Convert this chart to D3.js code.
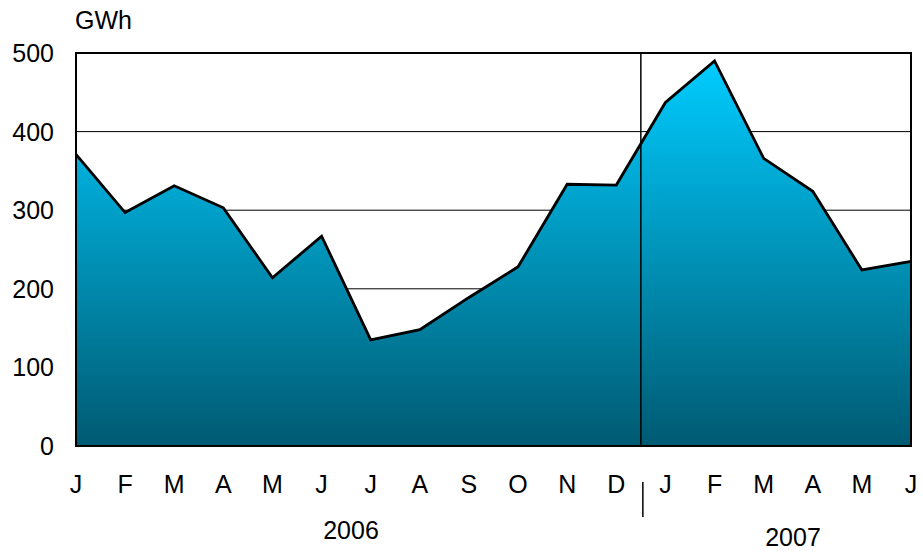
<!DOCTYPE html>
<html>
<head>
<meta charset="utf-8">
<title>GWh 2006-2007</title>
<script src="https://d3js.org/d3.v7.min.js"></script>
<style>
  body { margin: 0; background: #fff; }
  text { font-family: "Liberation Sans", Arial, sans-serif; fill: #000; }
</style>
</head>
<body>
<svg id="chart" width="923" height="553"></svg>
<script>
// data
var months = ["J","F","M","A","M","J","J","A","S","O","N","D","J","F","M","A","M","J"];
var values = [371, 297, 331, 303, 214, 267, 135, 148, 189, 228, 333, 332, 437, 490, 366, 324, 224, 235];
var yTicks = [0, 100, 200, 300, 400, 500];
var years = ["2006", "2007"];

var svg = d3.select("#chart");
var mLeft = 76, mRight = 911, mTop = 53, mBottom = 446;
var fs = 25;

var x = d3.scaleLinear().domain([0, months.length - 1]).range([mLeft, mRight]);
var y = d3.scaleLinear().domain([0, 500]).range([mBottom, mTop]);

// gradient fill
var grad = svg.append("defs").append("linearGradient")
  .attr("id", "fill").attr("x1", 0).attr("y1", 0).attr("x2", 0).attr("y2", 1);
grad.append("stop").attr("offset", "0%").attr("stop-color", "#00ccff");
grad.append("stop").attr("offset", "100%").attr("stop-color", "#005a72");

// gridlines
svg.append("g").selectAll("line").data(yTicks.slice(1, -1)).enter().append("line")
  .attr("x1", mLeft).attr("x2", mRight)
  .attr("y1", d => y(d)).attr("y2", d => y(d))
  .attr("stroke", "#000").attr("stroke-width", 1);

// area
var area = d3.area().x((d, i) => x(i)).y0(y(0)).y1(d => y(d));
svg.append("path").datum(values).attr("d", area).attr("fill", "url(#fill)");
var line = d3.line().x((d, i) => x(i)).y(d => y(d));
svg.append("path").datum(values).attr("d", line)
  .attr("fill", "none").attr("stroke", "#000").attr("stroke-width", 2.8);

// year divider inside plot
var xDiv = (x(11) + x(12)) / 2;
svg.append("line").attr("x1", xDiv).attr("x2", xDiv).attr("y1", mTop).attr("y2", mBottom)
  .attr("stroke", "#000").attr("stroke-width", 1.5);

// frame
svg.append("rect").attr("x", mLeft).attr("y", mTop).attr("width", mRight - mLeft).attr("height", mBottom - mTop)
  .attr("fill", "none").attr("stroke", "#000").attr("stroke-width", 2);

// y axis labels
svg.append("g").selectAll("text").data(yTicks).enter().append("text")
  .attr("x", 54).attr("y", d => y(d) + 9)
  .attr("text-anchor", "end").attr("font-size", fs)
  .text(d => d);

svg.append("text").attr("x", 75).attr("y", 29).attr("font-size", fs).text("GWh");

// month labels
svg.append("g").selectAll("text").data(months).enter().append("text")
  .attr("x", (d, i) => x(i)).attr("y", 493)
  .attr("text-anchor", "middle").attr("font-size", fs)
  .text(d => d);

// separator tick below axis
svg.append("line").attr("x1", xDiv + 2).attr("x2", xDiv + 2).attr("y1", 482).attr("y2", 517)
  .attr("stroke", "#000").attr("stroke-width", 1.5);

// year labels
svg.append("text").attr("x", 351).attr("y", 539).attr("text-anchor", "middle").attr("font-size", fs).text(years[0]);
svg.append("text").attr("x", 793).attr("y", 546).attr("text-anchor", "middle").attr("font-size", fs).text(years[1]);
</script>
</body>
</html>
